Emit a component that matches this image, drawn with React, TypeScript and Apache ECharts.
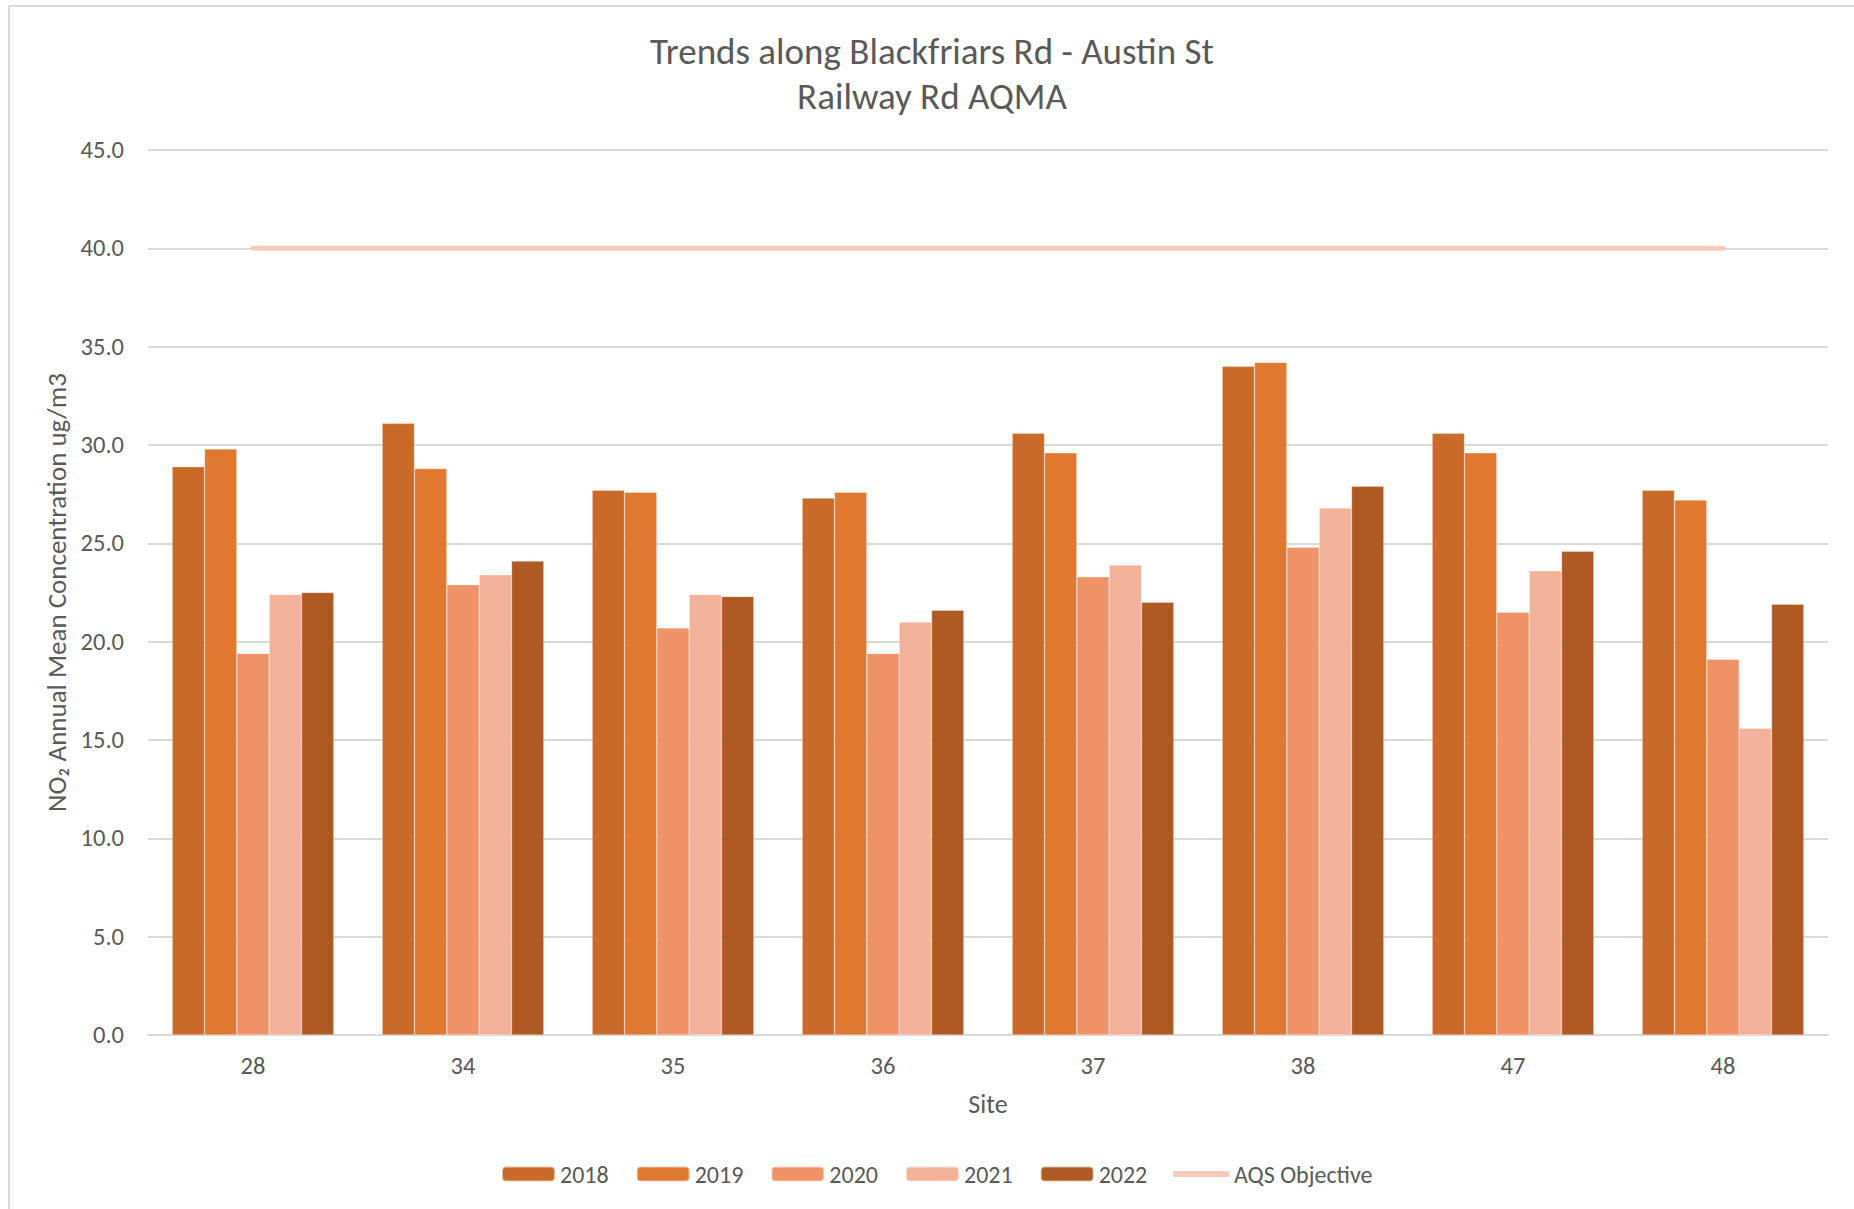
import React, { useEffect, useRef } from "react";
import * as echarts from "echarts";

const sites = ["28", "34", "35", "36", "37", "38", "47", "48"];
const years = ["2018", "2019", "2020", "2021", "2022"];
const v2018 = [28.9, 31.1, 27.7, 27.3, 30.6, 34.0, 30.6, 27.7];
const v2019 = [29.8, 28.8, 27.6, 27.6, 29.6, 34.2, 29.6, 27.2];
const v2020 = [19.4, 22.9, 20.7, 19.4, 23.3, 24.8, 21.5, 19.1];
const v2021 = [22.4, 23.4, 22.4, 21.0, 23.9, 26.8, 23.6, 15.6];
const v2022 = [22.5, 24.1, 22.3, 21.6, 22.0, 27.9, 24.6, 21.9];
const aqsObjective = [40, 40, 40, 40, 40, 40, 40, 40];
const yearColors = ["#C96A28", "#E07830", "#F09268", "#F2B29A", "#AF5A22"];
const aqsColor = "#F8CBB8";

const FONT = "Carlito, 'Open Sans', sans-serif";
const TXT = "#595959";

export default function App() {
  const ref = useRef<HTMLDivElement>(null);
  useEffect(() => {
    if (!ref.current) return;
    const chart = echarts.init(ref.current, null, { renderer: "svg" });
    const values = [v2018, v2019, v2020, v2021, v2022];
    const barSeries = years.map((y, i) => ({
      name: y,
      type: "bar",
      data: values[i],
      barGap: "0%",
      barCategoryGap: "23%",
      itemStyle: { color: yearColors[i], borderColor: "rgba(255,255,255,0.6)", borderWidth: 0.5 },
    }));
    const titleStyle = {
      fontFamily: FONT,
      fontSize: 37,
      fill: TXT,
      textAlign: "center",
      textVerticalAlign: "middle",
    };
    chart.setOption({
      animation: false,
      textStyle: { fontFamily: FONT, color: TXT },
      graphic: [
        {
          type: "rect",
          silent: true,
          shape: { x: 9, y: 6, width: 1900, height: 1300 },
          style: { fill: "none", stroke: "#D9D9D9", lineWidth: 2 },
        },
        {
          type: "text",
          x: 932,
          y: 51,
          style: { ...titleStyle, text: "Trends along Blackfriars Rd - Austin St" },
        },
        {
          type: "text",
          x: 932,
          y: 96,
          style: { ...titleStyle, text: "Railway Rd AQMA" },
        },
      ],
      grid: { left: 148, right: 26, top: 150, bottom: 174, containLabel: false },
      legend: [
        {
          left: 496,
          top: 1157,
          itemWidth: 53,
          itemHeight: 15,
          itemGap: 27,
          textStyle: { fontFamily: FONT, fontSize: 24, color: TXT },
          data: years,
        },
        {
          left: 1168,
          top: 1157,
          itemWidth: 56,
          itemHeight: 6,
          icon: "roundRect",
          textStyle: { fontFamily: FONT, fontSize: 24, color: TXT },
          data: ["AQS Objective"],
        },
      ],
      xAxis: {
        type: "category",
        data: sites,
        name: "Site",
        nameLocation: "middle",
        nameGap: 56,
        nameTextStyle: { fontFamily: FONT, fontSize: 26, color: TXT },
        axisLine: { lineStyle: { color: "#D9D9D9", width: 2 } },
        axisTick: { show: false },
        axisLabel: { fontFamily: FONT, fontSize: 24.5, color: TXT, margin: 18 },
      },
      yAxis: {
        type: "value",
        min: 0,
        max: 45,
        interval: 5,
        name: "NO₂ Annual Mean Concentration ug/m3",
        nameLocation: "middle",
        nameGap: 74,
        nameTextStyle: { fontFamily: FONT, fontSize: 27, color: TXT },
        axisLine: { show: false },
        axisTick: { show: false },
        splitLine: { lineStyle: { color: "#D9D9D9", width: 2 } },
        axisLabel: {
          fontFamily: FONT,
          fontSize: 24.5,
          color: TXT,
          margin: 24,
          formatter: (v: number) => v.toFixed(1),
        },
      },
      series: [
        ...barSeries,
        {
          name: "AQS Objective",
          type: "line",
          data: aqsObjective,
          symbol: "none",
          z: 5,
          lineStyle: { color: aqsColor, width: 5, cap: "round" },
          itemStyle: { color: aqsColor },
        },
      ],
    });
    return () => chart.dispose();
  }, []);
  return (
    <div
      ref={ref}
      style={{ position: "fixed", left: 0, top: 0, width: 1854, height: 1209, background: "#fff" }}
    />
  );
}
